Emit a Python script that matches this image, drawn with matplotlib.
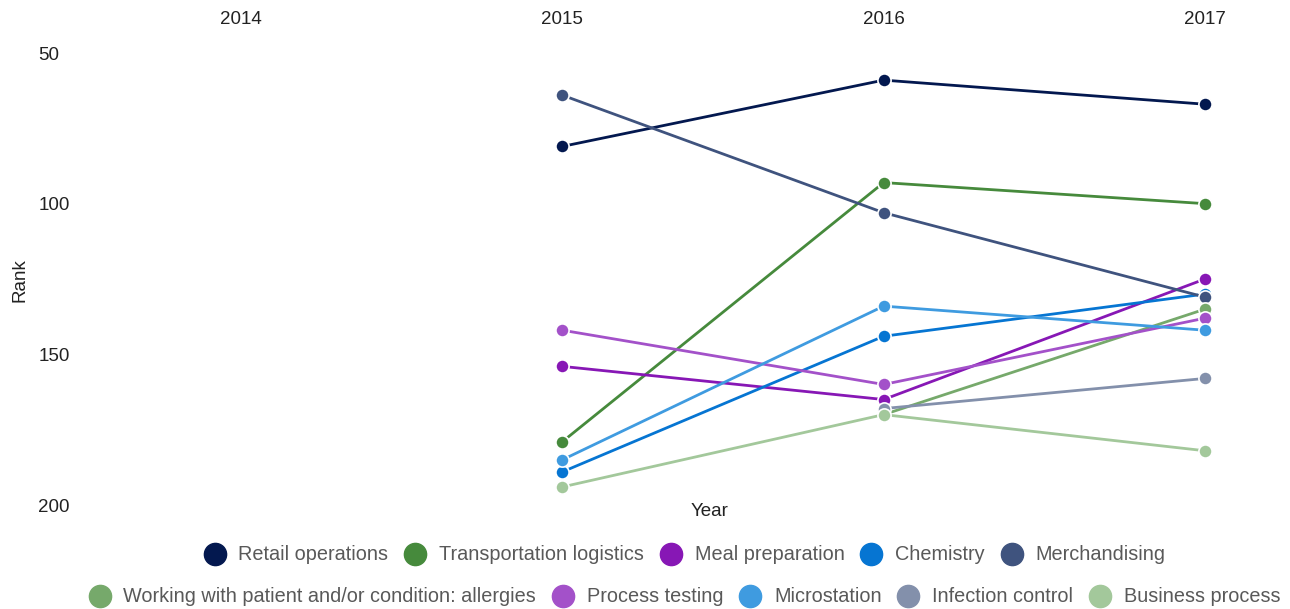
import numpy as np
import matplotlib
matplotlib.use("Agg")
import matplotlib.pyplot as plt
from matplotlib.lines import Line2D

plt.rcParams['font.family'] = ['Liberation Sans', 'DejaVu Sans']

years = [2014, 2015, 2016, 2017]
nan = np.nan

series_names = [
    "Retail operations", "Transportation logistics", "Meal preparation",
    "Chemistry", "Merchandising",
    "Working with patient and/or condition: allergies", "Process testing",
    "Microstation", "Infection control", "Business process",
]
retail_operations = [nan, 81, 59, 67]
transportation_logistics = [nan, 179, 93, 100]
meal_preparation = [nan, 154, 165, 125]
chemistry = [nan, 189, 144, 130]
merchandising = [nan, 64, 103, 131]
allergies = [nan, nan, 170, 135]
process_testing = [nan, 142, 160, 138]
microstation = [nan, 185, 134, 142]
infection_control = [nan, nan, 168, 158]
business_process = [nan, 194, 170, 182]

series_values = [retail_operations, transportation_logistics, meal_preparation,
                 chemistry, merchandising, allergies, process_testing,
                 microstation, infection_control, business_process]
colors = ["#03184f", "#468a3c", "#8717b5", "#0675d2", "#3f537e",
          "#76a96b", "#a351c9", "#3f9be0", "#8390ab", "#a3c89b"]

W, H = 1290, 609
fig = plt.figure(figsize=(W / 100, H / 100), dpi=100)
# axes area in pixels
left_px, right_px, top_px, bottom_px = 80, 1280, 45, 515
ax = fig.add_axes([left_px / W, 1 - bottom_px / H,
                   (right_px - left_px) / W, (bottom_px - top_px) / H])

for name, vals, c in zip(series_names, series_values, colors):
    ax.plot(years, vals, color=c, lw=2.0, marker='o', markersize=9.5,
            markeredgecolor='white', markeredgewidth=1.2, label=name,
            solid_capstyle='round')

# x limits: 2014 at px 241, 2017 at px 1205
ppy = (1205 - 241) / 3.0
ax.set_xlim(2014 - (241 - left_px) / ppy, 2017 + (right_px - 1205) / ppy)
# y: 50 at px 53, 200 at px 505
ppu = (505 - 53) / 150.0
ax.set_ylim(200 + (bottom_px - 505) / ppu, 50 - (53 - top_px) / ppu)

ax.set_xticks(years)
ax.set_xticklabels([str(y) for y in years])
ax.set_yticks([50, 100, 150, 200])
ax.xaxis.tick_top()
ax.tick_params(axis='x', length=0, pad=12, labelsize=13.5, labelcolor='#222222')
ax.tick_params(axis='y', length=0, pad=30, labelsize=13.5, labelcolor='#222222')
for lab in ax.get_yticklabels():
    lab.set_horizontalalignment('left')
for s in ax.spines.values():
    s.set_visible(False)

ax.set_xlabel("Year", fontsize=13.5, color='#222222')
ax.xaxis.set_label_position('bottom')
ax.xaxis.set_label_coords((710 - left_px) / (right_px - left_px),
                          (bottom_px - 512) / (bottom_px - top_px))
ax.xaxis.label.set_verticalalignment('center')
ax.set_ylabel("Rank", fontsize=13.5, color='#222222')
ax.yaxis.set_label_coords((20 - left_px) / (right_px - left_px), 0.5)
ax.yaxis.label.set_verticalalignment('center')

handles = [Line2D([], [], color=c, marker='o', linestyle='none', markersize=16)
           for c in colors]
kw = dict(frameon=False, loc='center', ncol=5, fontsize=14.3,
          handlelength=1.0, handletextpad=0.7, columnspacing=0.85,
          labelcolor='#595959', borderaxespad=0, borderpad=0)
fig.legend(handles[:5], series_names[:5],
           bbox_to_anchor=(685 / W, 1 - 555 / H), **kw)
fig.legend(handles[5:], series_names[5:],
           bbox_to_anchor=(685 / W, 1 - 597 / H), **kw)

fig.savefig("out.png", dpi=100)
